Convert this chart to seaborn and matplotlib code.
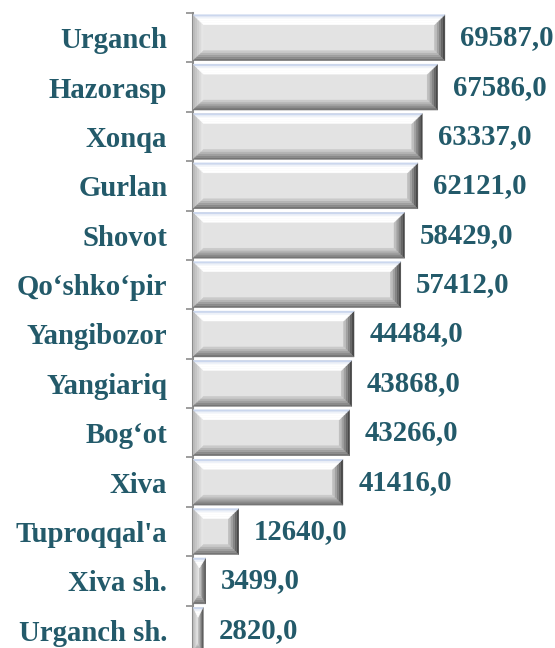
import matplotlib
matplotlib.use("Agg")
import matplotlib.pyplot as plt
from matplotlib.patches import Polygon
from matplotlib.colors import to_rgb
import numpy as np
import pandas as pd
import seaborn as sns

districts = ["Urganch", "Hazorasp", "Xonqa", "Gurlan", "Shovot", "Qo\u2018shko\u2018pir",
             "Yangibozor", "Yangiariq", "Bog\u2018ot", "Xiva", "Tuproqqal'a",
             "Xiva sh.", "Urganch sh."]
values = [69587.0, 67586.0, 63337.0, 62121.0, 58429.0, 57412.0,
          44484.0, 43868.0, 43266.0, 41416.0, 12640.0, 3499.0, 2820.0]

text_color = "#235a6a"

sns.set_theme(style="white")
plt.rcParams["font.family"] = ["Liberation Serif", "DejaVu Serif"]

df = pd.DataFrame({"district": districts, "value": values})

fig = plt.figure(figsize=(5.55, 6.48), dpi=100)
# plot area runs a little past the bottom edge of the picture, as in the original
ax = fig.add_axes([193 / 555, -7 / 648, 1 - 193 / 555, 642 / 648])

sns.barplot(data=df, x="value", y="district", orient="h", color="#e3e3e3",
            width=0.93, saturation=1, edgecolor="none", ax=ax)

ax.set_xlim(0, 100000)
ax.set_ylim(len(districts) - 0.5, -0.5)


def mix(c1, c2, t):
    a, b = np.array(to_rgb(c1)), np.array(to_rgb(c2))
    return tuple(a + (b - a) * t)


# bevel look, built from the bar patches themselves
fig.canvas.draw()
to_data = ax.transData.inverted()
steps = 5
for bar in list(ax.patches):
    x0, y0 = bar.get_x(), bar.get_y()
    x1, y1 = x0 + bar.get_width(), y0 + bar.get_height()
    (px0, py0), (px1, py1) = ax.transData.transform([(x0, y0), (x1, y1)])
    # py0 is the top of the bar in pixels (inverted y axis)
    bw = min(10.5, abs(px1 - px0) / 2)
    bh = min(10.0, abs(py1 - py0) / 2)
    for k in range(steps):
        t0, t1 = k / steps, (k + 1) / steps
        tm = (k + 0.5) / steps
        ox0, ox1 = px0 + bw * t0, px1 - bw * t0
        oyt, oyb = py0 - bh * t0, py1 + bh * t0
        ix0, ix1 = px0 + bw * t1, px1 - bw * t1
        iyt, iyb = py0 - bh * t1, py1 + bh * t1
        sides = {
            "top": ([(ox0, oyt), (ox1, oyt), (ix1, iyt), (ix0, iyt)],
                    mix("#b9c9e8", "#ffffff", min(1, tm * 2.5))),
            "bottom": ([(ox0, oyb), (ox1, oyb), (ix1, iyb), (ix0, iyb)],
                       mix("#6a6a6a", "#d4d4d4", tm)),
            "left": ([(ox0, oyt), (ix0, iyt), (ix0, iyb), (ox0, oyb)],
                     mix("#b4b4b4", "#ececec", tm)),
            "right": ([(ox1, oyt), (ix1, iyt), (ix1, iyb), (ox1, oyb)],
                      mix("#3a3a3a", "#cdcdcd", tm)),
        }
        for name in ["left", "right", "bottom", "top"]:
            pts, col = sides[name]
            pts = to_data.transform(pts)
            ax.add_patch(Polygon(pts, closed=True, facecolor=col,
                                 edgecolor=col, linewidth=0.3, zorder=3))

labels = [f"{v:.1f}".replace(".", ",") for v in values]
ax.bar_label(ax.containers[0], labels=labels, padding=11, fontsize=20.7,
             fontweight="bold", color=text_color)

ax.set_xlabel("")
ax.set_ylabel("")
ax.set_xticks([])
for s in ["top", "right", "bottom"]:
    ax.spines[s].set_visible(False)
ax.spines["left"].set_color("#8c8c8c")
ax.spines["left"].set_linewidth(1.5)

ax.set_yticks(np.arange(-0.5, len(districts) + 0.5, 1), minor=True)
ax.tick_params(axis="y", which="major", length=0, pad=18.5)
ax.tick_params(axis="y", which="minor", left=True, length=5, width=1.2,
               color="#8c8c8c")
for lab in ax.get_yticklabels():
    lab.set_fontsize(20.7)
    lab.set_fontweight("bold")
    lab.set_color(text_color)

fig.savefig("out.png", dpi=100)
